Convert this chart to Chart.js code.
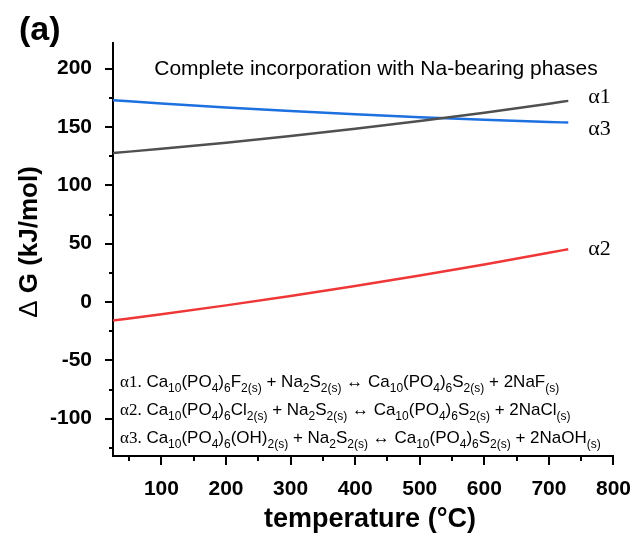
<!DOCTYPE html>
<html>
<head>
<meta charset="utf-8">
<script src="https://cdn.jsdelivr.net/npm/chart.js@4.4.1/dist/chart.umd.min.js"></script>
<style>
  body { margin: 0; background: #fff; }
  #wrap { width: 644px; height: 537px; }
</style>
</head>
<body>
<div id="wrap"><canvas id="chart" width="644" height="537"></canvas></div>
<script>
// temperature (°C) and ΔG (kJ/mol)
const temperature = [25, 100, 200, 300, 400, 500, 600, 700, 730];
const alpha1 = [127.7, 131.3, 136.5, 142.2, 148.4, 155.1, 162.3, 170.0, 172.4];
const alpha2 = [-15.9, -10.5, -2.9, 5.2, 13.7, 22.7, 32.2, 42.2, 45.3];
const alpha3 = [173.0, 170.2, 166.8, 163.7, 160.9, 158.4, 156.2, 154.3, 153.8];

const xTicks = [100, 200, 300, 400, 500, 600, 700, 800];
const yTicks = [-100, -50, 0, 50, 100, 150, 200];

const seriesNames = ['α1', 'α2', 'α3'];
const chartTitle = 'Complete incorporation with Na-bearing phases';
const equations = [
  ['α1.', ' Ca_{10}(PO_{4})_{6}F_{2(s)} + Na_{2}S_{2(s)} ↔ Ca_{10}(PO_{4})_{6}S_{2(s)} + 2NaF_{(s)}'],
  ['α2.', ' Ca_{10}(PO_{4})_{6}Cl_{2(s)} + Na_{2}S_{2(s)} ↔ Ca_{10}(PO_{4})_{6}S_{2(s)} + 2NaCl_{(s)}'],
  ['α3.', ' Ca_{10}(PO_{4})_{6}(OH)_{2(s)} + Na_{2}S_{2(s)} ↔ Ca_{10}(PO_{4})_{6}S_{2(s)} + 2NaOH_{(s)}']
];

const toPoints = (ys) => ys.map((y, i) => ({ x: temperature[i], y: y }));

// draws "text_{sub}" with real subscripts, returns end x
function richText(ctx, str, x, y, size) {
  const parts = str.split(/_\{([^}]*)\}/);
  parts.forEach((p, i) => {
    if (!p) return;
    if (i % 2 === 1) {
      ctx.font = Math.round(size * 0.68) + 'px Arial, "Liberation Sans"';
      ctx.fillText(p, x, y + size * 0.28);
    } else {
      ctx.font = size + 'px Arial, "Liberation Sans"';
      ctx.fillText(p, x, y);
    }
    x += ctx.measureText(p).width;
  });
  return x;
}

const decorations = {
  id: 'decorations',
  afterDraw(chart) {
    const ctx = chart.ctx;
    const xs = chart.scales.x, ys = chart.scales.y;
    const area = chart.chartArea;
    ctx.save();
    ctx.strokeStyle = '#000';
    ctx.fillStyle = '#000';
    ctx.lineWidth = 2;

    // major + minor tick marks, outward
    for (let v = 50; v <= 800; v += 50) {
      const px = Math.round(xs.getPixelForValue(v));
      const len = v % 100 === 0 ? 9 : 5;
      ctx.beginPath(); ctx.moveTo(px, area.bottom); ctx.lineTo(px, area.bottom + len); ctx.stroke();
    }
    for (let v = -125; v <= 200; v += 25) {
      const py = Math.round(ys.getPixelForValue(v));
      const len = v % 50 === 0 ? 8 : 4;
      ctx.beginPath(); ctx.moveTo(area.left, py); ctx.lineTo(area.left - len, py); ctx.stroke();
    }

    // panel letter
    ctx.textBaseline = 'alphabetic';
    ctx.textAlign = 'left';
    ctx.font = 'bold 34px Arial, "Liberation Sans"';
    ctx.fillText('(a)', 19, 40);

    // title inside plot
    ctx.font = '21px Arial, "Liberation Sans"';
    ctx.textAlign = 'center';
    ctx.fillText(chartTitle, 376, 75);

    // series labels at line ends
    ctx.textAlign = 'left';
    ctx.textBaseline = 'middle';
    ctx.font = '22px "Times New Roman", "Liberation Serif", serif';
    const ends = [alpha1, alpha2, alpha3];
    const nudge = [-4, 0, 7];
    ends.forEach((s, i) => {
      const lx = xs.getPixelForValue(temperature[temperature.length - 1]) + 20;
      const ly = ys.getPixelForValue(s[s.length - 1]) + nudge[i];
      ctx.fillText(seriesNames[i], lx, ly);
    });

    // reaction equations
    ctx.textBaseline = 'alphabetic';
    const base = [387, 415, 443];
    equations.forEach((eq, i) => {
      ctx.font = '17px "Times New Roman", "Liberation Serif", serif';
      ctx.fillText(eq[0], 120, base[i]);
      const x0 = 120 + ctx.measureText(eq[0]).width;
      richText(ctx, eq[1], x0, base[i], 17);
    });

    // axis titles
    ctx.textAlign = 'center';
    ctx.font = 'bold 27px Arial, "Liberation Sans"';
    ctx.fillText('temperature (°C)', 370, 527);

    ctx.translate(37, 242);
    ctx.rotate(-Math.PI / 2);
    ctx.textAlign = 'left';
    const d = 'Δ ';
    ctx.font = 'bold 26px Arial, "Liberation Sans"';
    const rest = 'G (kJ/mol)';
    const wRest = ctx.measureText(rest).width;
    ctx.font = '26px Arial, "Liberation Sans"';
    const wD = ctx.measureText(d).width;
    const start = -(wD + wRest) / 2;
    ctx.fillText(d, start, 0);
    ctx.font = 'bold 26px Arial, "Liberation Sans"';
    ctx.fillText(rest, start + wD, 0);
    ctx.restore();
  }
};

const ctx = document.getElementById('chart').getContext('2d');
new Chart(ctx, {
  type: 'line',
  data: {
    datasets: [
      { label: seriesNames[0], data: toPoints(alpha1), borderColor: 'rgb(80,80,80)' },
      { label: seriesNames[1], data: toPoints(alpha2), borderColor: 'rgb(240,55,55)' },
      { label: seriesNames[2], data: toPoints(alpha3), borderColor: 'rgb(28,112,224)' }
    ]
  },
  options: {
    responsive: false,
    devicePixelRatio: 1,
    animation: false,
    layout: { padding: { left: 0, top: 43, right: 18, bottom: 0 } },
    elements: {
      point: { radius: 0 },
      line: { borderWidth: 2.5, cubicInterpolationMode: 'monotone' }
    },
    plugins: {
      legend: { display: false },
      tooltip: { enabled: false }
    },
    scales: {
      x: {
        type: 'linear',
        min: 25,
        max: 800,
        afterBuildTicks: (s) => { s.ticks = xTicks.map(v => ({ value: v })); },
        afterFit: (s) => { s.height = 81; },
        grid: { display: false },
        border: { display: true, color: '#000', width: 2 },
        ticks: {
          color: '#000',
          padding: 13,
          maxRotation: 0,
          font: { family: 'Arial, "Liberation Sans"', size: 21, weight: 'bold' }
        }
      },
      y: {
        min: -132,
        max: 222,
        afterBuildTicks: (s) => { s.ticks = yTicks.map(v => ({ value: v })); },
        afterFit: (s) => { s.width = 113; },
        grid: { display: false },
        border: { display: true, color: '#000', width: 2 },
        ticks: {
          color: '#000',
          padding: 13,
          font: { family: 'Arial, "Liberation Sans"', size: 21, weight: 'bold' }
        }
      }
    }
  },
  plugins: [decorations]
});
</script>
</body>
</html>
